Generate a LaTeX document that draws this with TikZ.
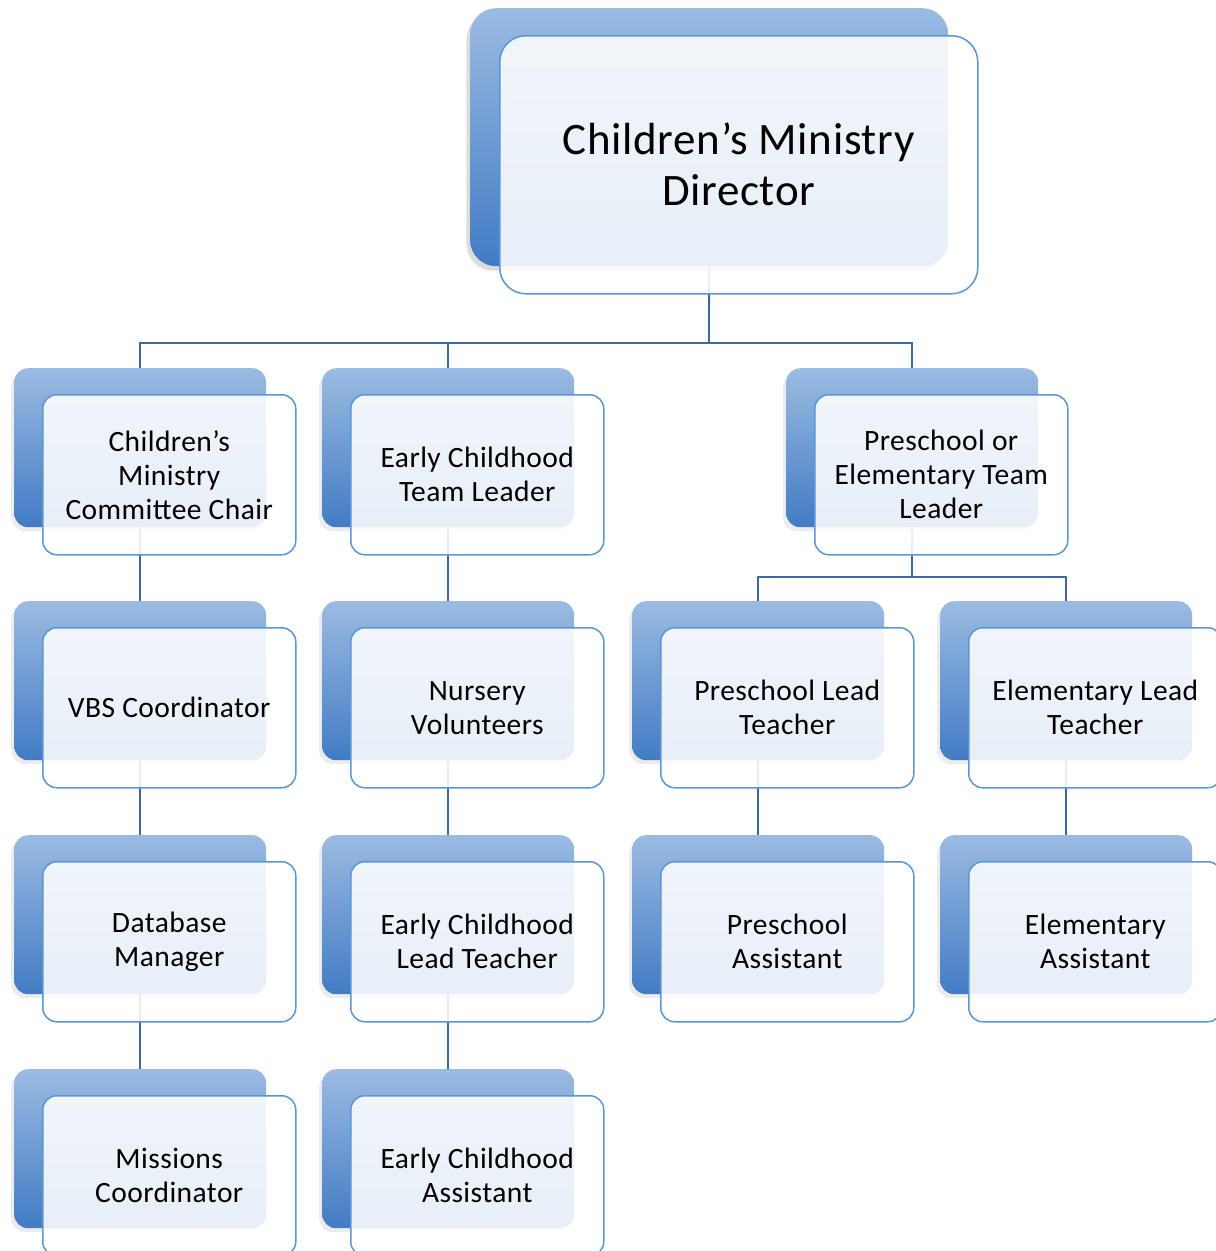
\documentclass[tikz,border=0pt]{standalone}
\usepackage{fontspec}
\setmainfont{Carlito}[LetterSpace=1.5]
\usetikzlibrary{shadows,backgrounds}
\definecolor{bluetop}{RGB}{155,187,226}
\definecolor{bluebot}{RGB}{66,123,196}
\definecolor{frameblue}{RGB}{91,150,212}
\definecolor{linkblue}{RGB}{62,104,162}
\begin{document}
\begin{tikzpicture}[x=1pt,y=-1pt,
 backbox/.style={rectangle, rounded corners=14pt, minimum width=252pt, minimum height=159pt, inner sep=0pt, anchor=north west, top color=bluetop, bottom color=bluebot, draw=none, drop shadow={shadow xshift=-3pt, shadow yshift=-4pt, opacity=0.15}},
 frontbox/.style={rectangle, rounded corners=14pt, minimum width=253pt, minimum height=160pt, inner sep=0pt, anchor=north west, draw=frameblue, line width=1.5pt, fill=white, fill opacity=0.88, text opacity=1, align=center, font=\fontsize{29.5}{34}\selectfont},
 bigback/.style={backbox, rounded corners=26pt, minimum width=478pt, minimum height=258pt, drop shadow={shadow xshift=-4pt, shadow yshift=-5pt, opacity=0.15}},
 bigfront/.style={frontbox, rounded corners=26pt, minimum width=478pt, minimum height=258pt, font=\fontsize{45}{51}\selectfont},
 link/.style={draw=linkblue, line width=1.8pt}
]
\useasboundingbox (0,0) rectangle (1216,1251);
\clip (0,0) rectangle (1216,1251);

% top
\node[bigback] (tb) at (470,8) {};
\node[bigfront] (tf) at (499,35) {Children’s Ministry\\Director};

% row 1
\node[backbox] (b11) at (14,368) {};
\node[frontbox] (f11) at (42,394) {Children’s\\Ministry\\Committee Chair};
\node[backbox] (b21) at (322,368) {};
\node[frontbox] (f21) at (350,394) {Early Childhood\\Team Leader};
\node[backbox] (bPE) at (786,368) {};
\node[frontbox] (fPE) at (814,394) {Preschool or\\Elementary Team\\Leader};

% row 2
\node[backbox] (b12) at (14,601) {};
\node[frontbox] (f12) at (42,627) {VBS Coordinator};
\node[backbox] (b22) at (322,601) {};
\node[frontbox] (f22) at (350,627) {Nursery\\Volunteers};
\node[backbox] (b32) at (632,601) {};
\node[frontbox] (f32) at (660,627) {Preschool Lead\\Teacher};
\node[backbox] (b42) at (940,601) {};
\node[frontbox] (f42) at (968,627) {Elementary Lead\\Teacher};

% row 3
\node[backbox] (b13) at (14,835) {};
\node[frontbox] (f13) at (42,861) {Database\\Manager};
\node[backbox] (b23) at (322,835) {};
\node[frontbox] (f23) at (350,861) {Early Childhood\\Lead Teacher};
\node[backbox] (b33) at (632,835) {};
\node[frontbox] (f33) at (660,861) {Preschool\\Assistant};
\node[backbox] (b43) at (940,835) {};
\node[frontbox] (f43) at (968,861) {Elementary\\Assistant};

% row 4
\node[backbox] (b14) at (14,1069) {};
\node[frontbox] (f14) at (42,1095) {Missions\\Coordinator};
\node[backbox] (b24) at (322,1069) {};
\node[frontbox] (f24) at (350,1095) {Early Childhood\\Assistant};

\begin{scope}[on background layer]
\coordinate (bus1) at (709,343);
\coordinate (bus2) at (912,577);
\draw[link] (tb.south) -- (bus1);
\draw[link] (b11.north) |- (bus1);
\draw[link] (b21.north) |- (bus1);
\draw[link] (bPE.north) |- (bus1);
\draw[link] (bPE.south) -- (bus2);
\draw[link] (b32.north) |- (bus2);
\draw[link] (b42.north) |- (bus2);
\draw[link] (b11.south) -- (b12.north);
\draw[link] (b12.south) -- (b13.north);
\draw[link] (b13.south) -- (b14.north);
\draw[link] (b21.south) -- (b22.north);
\draw[link] (b22.south) -- (b23.north);
\draw[link] (b23.south) -- (b24.north);
\draw[link] (b32.south) -- (b33.north);
\draw[link] (b42.south) -- (b43.north);
\end{scope}
\end{tikzpicture}
\end{document}
